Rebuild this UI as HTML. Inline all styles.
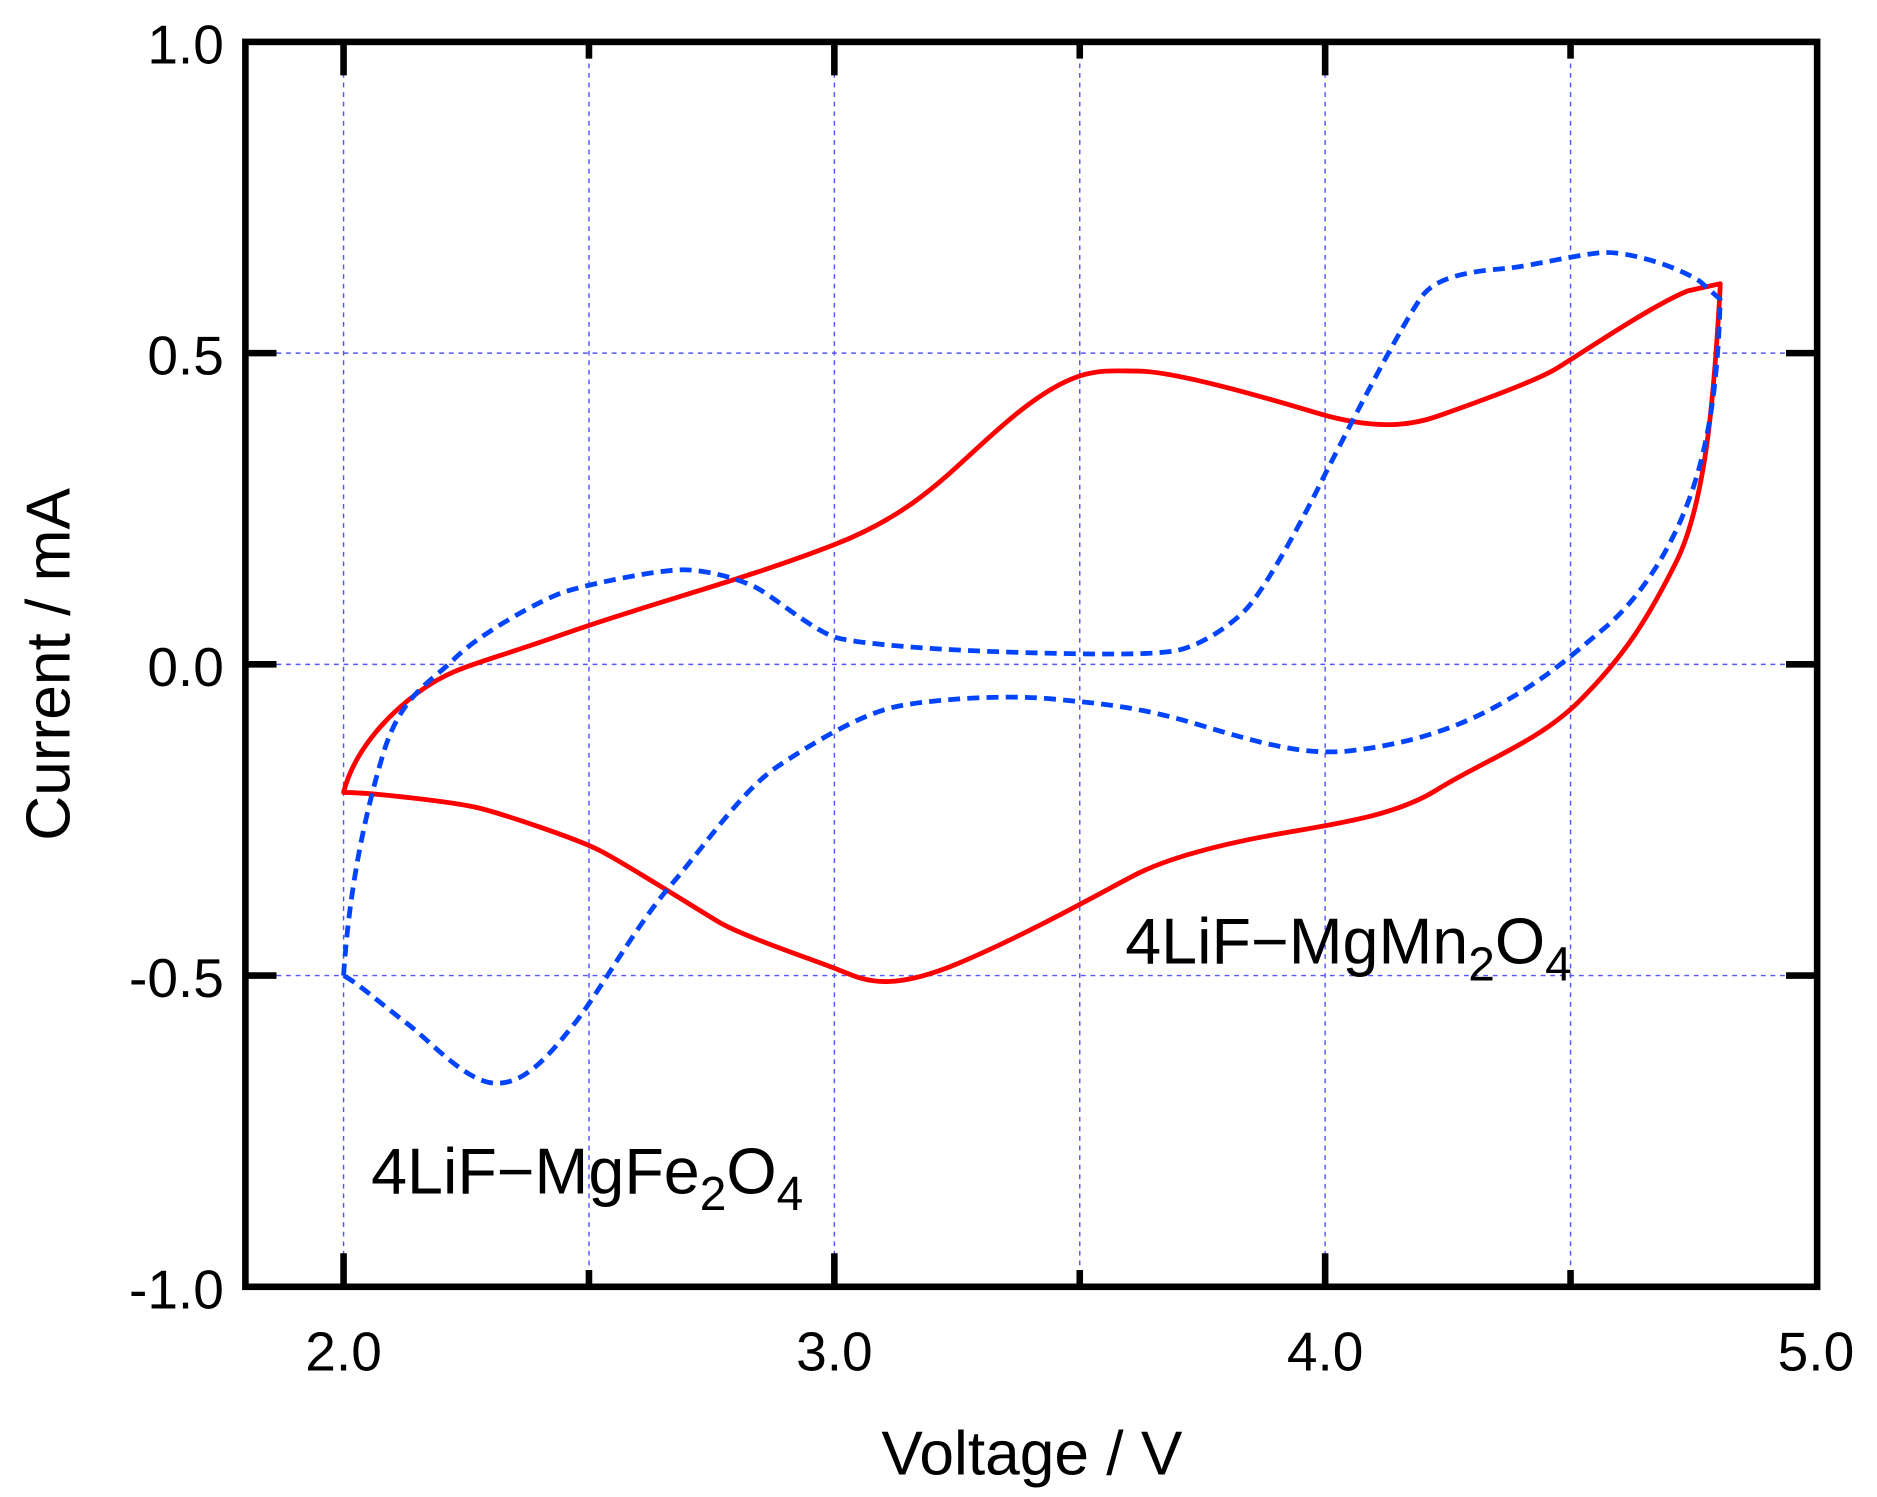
<!DOCTYPE html>
<html><head><meta charset="utf-8"><style>html,body{margin:0;padding:0;background:#fff}svg{display:block}</style></head>
<body>
<svg width="1877" height="1497" viewBox="0 0 1568 1250.6" preserveAspectRatio="none" xmlns="http://www.w3.org/2000/svg" font-family="Liberation Sans, sans-serif">
<rect width="1568" height="1251" fill="#fff"/>
<g stroke="#5555ff" stroke-width="1.2" stroke-dasharray="4,4" fill="none">
<line x1="287" y1="37" x2="287" y2="1073"/><line x1="492" y1="37" x2="492" y2="1073"/><line x1="697" y1="37" x2="697" y2="1073"/><line x1="902" y1="37" x2="902" y2="1073"/><line x1="1107" y1="37" x2="1107" y2="1073"/><line x1="1312" y1="37" x2="1312" y2="1073"/>
<line x1="207" y1="295" x2="1516" y2="295"/><line x1="207" y1="555" x2="1516" y2="555"/><line x1="207" y1="815" x2="1516" y2="815"/>
</g>
<g stroke="#000" stroke-width="5.5" fill="none">
<rect x="205" y="35" width="1313" height="1040"/>
<path d="M287 1075v-28M697 1075v-28M1107 1075v-28M492 1075v-14M902 1075v-14M1312 1075v-14M287 35v28M697 35v28M1107 35v28M492 35v14M902 35v14M1312 35v14"/>
<path d="M205 295h26M205 555h26M205 815h26M1518 295h-26M1518 555h-26M1518 815h-26"/>
</g>
<g font-size="46" text-anchor="end" fill="#000">
<text x="187" y="53">1.0</text><text x="187" y="313">0.5</text><text x="187" y="573">0.0</text><text x="187" y="833">-0.5</text><text x="187" y="1093">-1.0</text>
</g>
<g font-size="46" text-anchor="middle" fill="#000">
<text x="287" y="1145">2.0</text><text x="697" y="1145">3.0</text><text x="1107" y="1145">4.0</text><text x="1517" y="1145">5.0</text>
</g>
<text x="862" y="1232" font-size="52" text-anchor="middle">Voltage / V</text>
<text transform="translate(58,555) rotate(-90)" font-size="52" text-anchor="middle">Current / mA</text>
<path fill="none" stroke="#ff0000" stroke-width="4" stroke-linejoin="round" d="M287,662 C295,630 320,600 350,578 S400,555 470,530 S620,485 697,455 S800,385 850,345 S920,310 950,310 S1050,330 1100,345 S1180,355 1200,348 S1280,320 1300,308 S1380,255 1410,243 L1437,237 L1437,240 C1432,330 1425,420 1400,470 S1355,550 1320,585 S1240,635 1200,660 S1100,690 1050,700 S970,720 950,730 S860,780 800,805 S720,818 700,810 S620,782 600,770 S520,720 500,710 S420,680 400,675 S310,662 287,662 Z"/>
<path fill="none" stroke="#0044ff" stroke-width="4" stroke-dasharray="10,6" stroke-linejoin="round" d="M287,815 C292,740 305,680 320,630 S360,570 380,550 S450,502 470,495 S550,476 570,476 S615,483 630,490 S680,528 700,533 S780,543 850,545 S960,547 980,544 S1025,525 1040,510 S1085,440 1100,410 S1175,262 1190,245 S1240,226 1260,224 S1320,212 1340,211 S1400,222 1420,235 L1437,250 C1435,330 1425,380 1410,420 S1370,500 1340,525 S1290,568 1250,590 S1170,622 1130,627 S1050,620 1000,605 S920,588 880,584 S780,584 750,590 S680,620 650,640 S590,705 560,740 S500,830 480,855 S440,905 415,905 S360,870 340,855 S300,822 287,815 Z"/>
<text x="940" y="805" font-size="54" fill="#000">4LiF−MgMn<tspan font-size="40" dy="14">2</tspan><tspan dy="-14">O</tspan><tspan font-size="40" dy="14">4</tspan></text>
<text x="310" y="997" font-size="54" fill="#000">4LiF−MgFe<tspan font-size="40" dy="14">2</tspan><tspan dy="-14">O</tspan><tspan font-size="40" dy="14">4</tspan></text>
</svg>
</body></html>
